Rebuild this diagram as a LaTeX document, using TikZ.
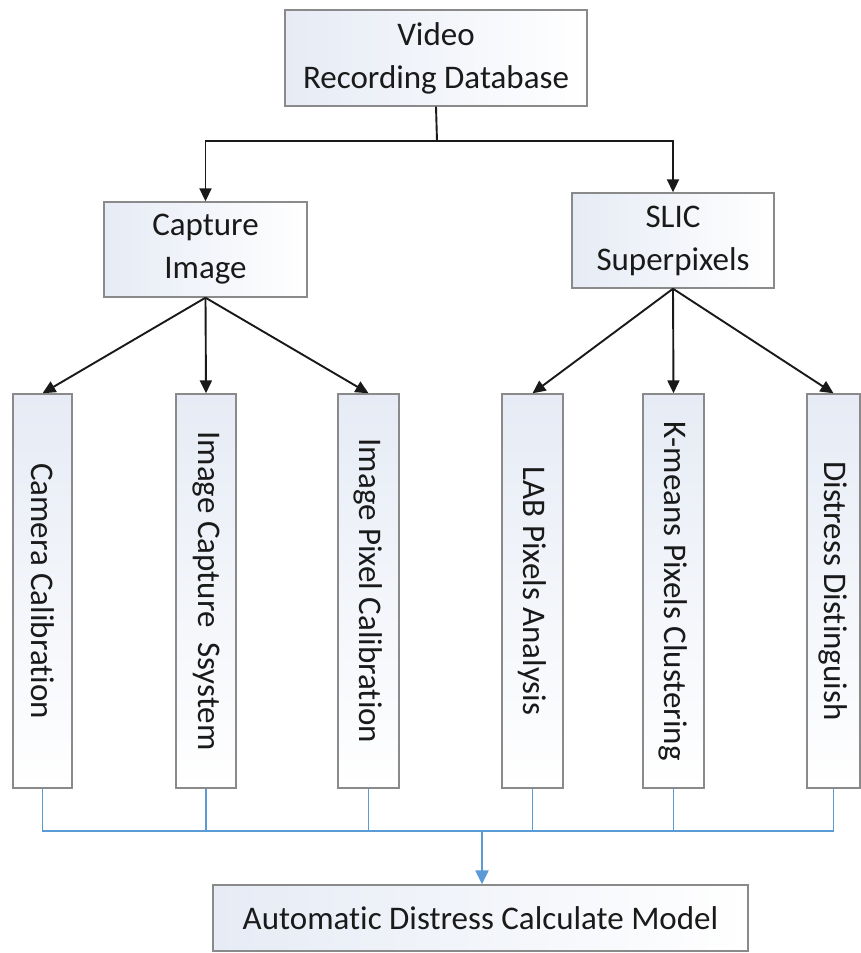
\documentclass[tikz,border=0pt]{standalone}
\usepackage{fontspec}
\setmainfont{Carlito}[Ligatures=NoCommon]
\usetikzlibrary{arrows.meta}
\definecolor{boxfill}{HTML}{E6EBF5}
\definecolor{boxline}{HTML}{8A8A8A}
\definecolor{txt}{HTML}{1A1A1A}
\definecolor{busblue}{HTML}{5B9BD5}
\tikzset{
  hbox/.style={draw=boxline, line width=1.4pt, left color=boxfill, right color=white,
    inner sep=0pt, text=txt, align=center, font=\fontsize{33}{43}\selectfont},
  vbox/.style={draw=boxline, line width=1.4pt, top color=boxfill, bottom color=white,
    inner sep=0pt, minimum height=394pt},
  vtext/.style={rotate=-90, text=txt, inner sep=0pt, font=\fontsize{33}{43}\selectfont},
  conn/.style={draw=black!90, line width=1.9pt},
  arr/.style={conn, -{Triangle[length=13pt,width=12pt]}},
  bus/.style={draw=busblue, line width=1.4pt},
  busarr/.style={draw=busblue, line width=2.3pt, -{Triangle[length=14pt,width=13pt]}}
}
\begin{document}
\begin{tikzpicture}[x=1pt,y=-1pt]
\fill[white] (0,0) rectangle (861,953);
\useasboundingbox (0,0) rectangle (861,953);

% top level
\node[hbox, minimum width=302pt, minimum height=96pt] (top) at (436,58) {Video\\Recording Database};
\node[hbox, minimum width=203pt, minimum height=95pt] (capture) at (205.5,249.5) {Capture\\Image};
\node[hbox, minimum width=202pt, minimum height=95pt] (slic) at (673,240.5) {SLIC\\Superpixels};

% vertical boxes
\node[vbox, minimum width=59pt] (camera) at (42.5,591) {};
\node[vbox, minimum width=60pt] (imgcap) at (206,591) {};
\node[vbox, minimum width=61pt] (imgpix) at (368.5,591) {};
\node[vbox, minimum width=61pt] (lab) at (532.5,591) {};
\node[vbox, minimum width=61pt] (kmeans) at (673.5,591) {};
\node[vbox, minimum width=53pt] (distress) at (833.5,591) {};

\node[vtext] (cameraT) at (camera) {Camera Calibration};
\node[vtext] (imgcapT) at (imgcap) {Image Capture\ \ Ssystem};
\node[vtext] (imgpixT) at (imgpix) {Image Pixel Calibration};
\node[vtext] (labT) at (lab) {LAB Pixels Analysis};
\node[vtext] (kmeansT) at (kmeans) {K-means Pixels Clustering};
\node[vtext] (distressT) at (distress) {Distress Distinguish};

% bottom
\node[hbox, minimum width=535pt, minimum height=66pt] (model) at (480.5,918) {Automatic Distress Calculate Model};

% black connectors
\coordinate (j) at (437,141);
\draw[conn] (top.south) -- (j);
\draw[arr] (j) -| (capture.north);
\draw[arr] (j) -| (slic.north);

\draw[arr] (capture.south) -- (camera.north);
\draw[arr] (capture.south) -- (imgcap.north);
\draw[arr] (capture.south) -- (imgpix.north);
\draw[arr] (slic.south) -- (lab.north);
\draw[arr] (slic.south) -- (kmeans.north);
\draw[arr] (slic.south) -- (distress.north);

% blue bus
\coordinate (b) at (482,831);
\draw[bus] (camera.south) |- (b) -| (distress.south);
\draw[bus] (imgcap.south) -- (imgcap.south |- b);
\draw[bus] (imgpix.south) -- (imgpix.south |- b);
\draw[bus] (lab.south) -- (lab.south |- b);
\draw[bus] (kmeans.south) -- (kmeans.south |- b);
\draw[busarr] (b) -- (b |- model.north);
\end{tikzpicture}
\end{document}
